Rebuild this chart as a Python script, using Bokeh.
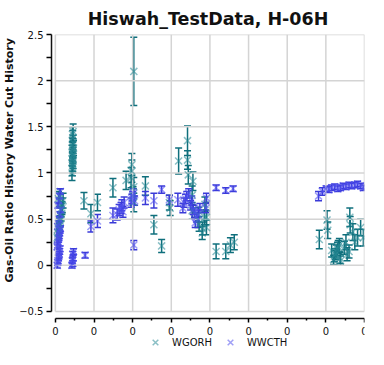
from bokeh.plotting import figure
from bokeh.models import (Range1d, LinearAxis, FixedTicker, ColumnDataSource, Whisker,
                          TeeHead, Legend, LegendItem, Title)
from bokeh.embed import file_html
from bokeh.resources import INLINE

# ---------------- data ----------------
x_ticks = [0, 1, 2, 3, 4, 5, 6, 7, 8]
x_tick_labels = ["0", "0", "0", "0", "0", "0", "0", "0", "0"]
x_minor = [0.5, 1.5, 2.5, 3.5, 4.5, 5.5, 6.5, 7.5]
y_ticks = [-0.5, 0, 0.5, 1, 1.5, 2, 2.5]
y_minor = [-0.25, 0.25, 0.75, 1.25, 1.75, 2.25]

# WGORH (teal)
gor_x = [0.05, 0.07, 0.08, 0.1, 0.1, 0.12, 0.13, 0.15, 0.15, 0.17, 0.18, 0.2, 0.08, 0.12,
         0.43, 0.44, 0.45, 0.45, 0.46, 0.44, 0.45, 0.46, 0.43, 0.45, 0.47, 0.44, 0.46, 0.45, 0.44, 0.46,
         0.74, 0.92, 1.09, 1.49, 1.83, 1.98, 1.98, 1.96, 2.03, 2.01, 2.03, 2.03,
         2.33, 2.55, 2.75, 2.95, 2.97, 3.19, 3.42, 3.42, 3.44, 3.54, 3.56, 3.54,
         3.69, 3.7, 3.72, 3.81, 3.8, 3.86, 3.87, 3.91, 3.91,
         4.16, 4.41, 4.53, 4.63,
         6.83, 7.03, 7.05, 7.15, 7.2, 7.22, 7.25, 7.27, 7.3, 7.32, 7.35, 7.37, 7.38,
         7.48, 7.52, 7.55, 7.6, 7.62, 7.63, 7.7, 7.75, 7.82, 7.9, 7.97]
gor_y = [0.3, 0.35, 0.4, 0.42, 0.45, 0.48, 0.5, 0.55, 0.6, 0.62, 0.65, 0.7, 0.72, 0.75,
         1.0, 1.05, 1.08, 1.1, 1.13, 1.15, 1.18, 1.2, 1.22, 1.25, 1.27, 1.3, 1.33, 1.38, 1.42, 1.45,
         0.7, 0.56, 0.68, 0.84, 0.92, 1.02, 1.09, 0.95, 0.68, 0.75, 0.85, 2.1,
         0.86, 0.44, 0.21, 0.68, 0.62, 1.13, 1.35, 1.14, 0.98, 0.76, 0.91, 0.59,
         0.49, 0.55, 0.45, 0.4, 0.35, 0.52, 0.66, 0.52, 0.41,
         0.15, 0.15, 0.22, 0.25,
         0.28, 0.49, 0.38, 0.16, 0.06, 0.1, 0.12, 0.15, 0.18, 0.2, 0.22, 0.08, 0.05,
         0.19, 0.25, 0.12, 0.15, 0.52, 0.44, 0.36, 0.25, 0.3, 0.41, 0.3]
gor_err = [0.05, 0.05, 0.06, 0.06, 0.06, 0.06, 0.07, 0.07, 0.07, 0.07, 0.08, 0.08, 0.08, 0.08,
           0.08, 0.08, 0.08, 0.08, 0.08, 0.08, 0.08, 0.08, 0.08, 0.08, 0.08, 0.08, 0.08, 0.08, 0.08, 0.08,
           0.09, 0.1, 0.09, 0.1, 0.1, 0.12, 0.12, 0.11, 0.1, 0.1, 0.1, 0.37,
           0.1, 0.1, 0.07, 0.08, 0.08, 0.14, 0.16, 0.1, 0.1, 0.1, 0.1, 0.09,
           0.08, 0.08, 0.08, 0.07, 0.07, 0.08, 0.08, 0.08, 0.08,
           0.08, 0.08, 0.08, 0.08,
           0.1, 0.1, 0.09, 0.07, 0.05, 0.06, 0.06, 0.07, 0.07, 0.07, 0.07, 0.06, 0.05,
           0.07, 0.08, 0.07, 0.07, 0.1, 0.09, 0.09, 0.08, 0.09, 0.09, 0.09]

# WWCTH (blue)
wct_x = [0.05, 0.06, 0.07, 0.08, 0.09, 0.1, 0.11, 0.12, 0.05, 0.06, 0.07, 0.08, 0.09, 0.1,
         0.11, 0.12, 0.13, 0.06, 0.08, 0.1, 0.12, 0.14, 0.07, 0.09, 0.11, 0.13,
         0.43, 0.45, 0.44, 0.46, 0.45, 0.47,
         0.77, 0.92, 1.09, 1.49, 1.6, 1.65, 1.7, 1.72, 1.75, 1.78,
         1.96, 1.98, 2.0, 2.02, 2.05, 2.03,
         2.33, 2.55, 2.75, 2.95, 3.17,
         3.3, 3.33, 3.37, 3.4, 3.45, 3.5, 3.53, 3.57, 3.6,
         3.62, 3.65, 3.7, 3.74, 3.91, 3.9,
         4.16, 4.41, 4.6,
         6.81, 6.91, 7.01, 7.08, 7.15, 7.23, 7.31, 7.38, 7.45, 7.52, 7.6, 7.67, 7.75, 7.82, 7.9, 7.97]
wct_y = [0.0, 0.03, 0.05, 0.08, 0.1, 0.12, 0.15, 0.18, 0.2, 0.22, 0.25, 0.28, 0.3, 0.32,
         0.35, 0.38, 0.4, 0.42, 0.45, 0.5, 0.55, 0.6, 0.65, 0.7, 0.75, 0.8,
         0.0, 0.02, 0.05, 0.08, 0.12, 0.15,
         0.11, 0.42, 0.48, 0.54, 0.55, 0.6, 0.62, 0.65, 0.58, 0.68,
         0.68, 0.72, 0.75, 0.78, 0.7, 0.22,
         0.73, 0.7, 0.82, 0.71, 0.71,
         0.62, 0.68, 0.72, 0.75, 0.78, 0.65, 0.7, 0.6, 0.57,
         0.46, 0.52, 0.55, 0.62, 0.73, 0.62,
         0.84, 0.81, 0.83,
         0.75, 0.8, 0.83, 0.82, 0.84, 0.85, 0.83, 0.84, 0.86, 0.85, 0.87, 0.86, 0.87, 0.88, 0.86, 0.84]
wct_err = [0.03, 0.03, 0.03, 0.03, 0.03, 0.03, 0.03, 0.03, 0.03, 0.03, 0.03, 0.03, 0.03, 0.03,
           0.03, 0.03, 0.03, 0.03, 0.03, 0.03, 0.03, 0.03, 0.03, 0.03, 0.03, 0.03,
           0.03, 0.03, 0.03, 0.03, 0.03, 0.03,
           0.03, 0.06, 0.07, 0.08, 0.06, 0.06, 0.06, 0.06, 0.06, 0.06,
           0.05, 0.05, 0.05, 0.05, 0.05, 0.05,
           0.07, 0.08, 0.04, 0.05, 0.07,
           0.05, 0.05, 0.05, 0.05, 0.05, 0.05, 0.05, 0.05, 0.05,
           0.05, 0.05, 0.05, 0.05, 0.05, 0.05,
           0.03, 0.03, 0.03,
           0.05, 0.04, 0.03, 0.03, 0.03, 0.03, 0.03, 0.03, 0.03, 0.03, 0.03, 0.03, 0.03, 0.03, 0.03, 0.03]

GOR_BAR = "#0f6f7c"
GOR_MARK = "#2a8a96"
WCT_BAR = "#3a3ad8"
WCT_MARK = "#5050ee"
FONT = "DejaVu Sans"

def src(xs, ys, es):
    return ColumnDataSource(dict(x=xs, y=ys,
                                 lower=[a - b for a, b in zip(ys, es)],
                                 upper=[a + b for a, b in zip(ys, es)]))

gor_src = src(gor_x, gor_y, gor_err)
wct_src = src(wct_x, wct_y, wct_err)

p = figure(width=368, height=349, output_backend="svg", toolbar_location=None,
           x_range=Range1d(-0.1, 8), y_range=Range1d(-0.9116, 2.5),
           x_axis_location=None, y_axis_location=None,
           min_border_left=50, min_border_right=4, min_border_top=34, min_border_bottom=0)
p.outline_line_color = None
p.xgrid.visible = False
p.ygrid.visible = False
p.background_fill_color = "white"
p.border_fill_color = "white"

p.title.text = "Hiswah_TestData, H-06H"
p.title.text_font = FONT
p.title.text_font_size = "17.5px"
p.title.text_font_style = "bold"
p.title.align = "center"
p.title.vertical_align = "top"
p.title.text_color = "#111111"
p.title.standoff = 8

# grid lines from tick arrays
p.segment(x0=x_ticks, x1=x_ticks, y0=[y_ticks[0]] * len(x_ticks), y1=[y_ticks[-1]] * len(x_ticks),
          line_color="#d4d4d4", line_width=1.5)
p.segment(x0=[x_ticks[0]] * len(y_ticks), x1=[x_ticks[-1]] * len(y_ticks), y0=y_ticks, y1=y_ticks,
          line_color="#d4d4d4", line_width=1.5)

# y axis
yax = LinearAxis(ticker=FixedTicker(ticks=y_ticks, minor_ticks=y_minor), bounds=(-0.5, 2.5))
yax.major_label_text_font = FONT
yax.major_label_text_font_size = "10px"
yax.major_label_text_color = "#111111"
yax.major_label_standoff = 3
yax.major_tick_out = 5
yax.major_tick_in = 0
yax.minor_tick_out = 5
yax.minor_tick_in = 0
yax.axis_line_color = "#111111"
yax.axis_line_width = 1.5
yax.major_tick_line_width = 1.5
yax.minor_tick_line_width = 1.5
p.add_layout(yax, "left")

ytitle = Title(text="Gas-Oil Ratio History  Water Cut History", align="left", offset=67,
               text_font=FONT, text_font_size="11px", text_font_style="bold",
               text_color="#111111", standoff=1)
p.add_layout(ytitle, "left")

# x axis, drawn a little below the -0.5 grid line
xax = LinearAxis(ticker=FixedTicker(ticks=x_ticks, minor_ticks=x_minor), bounds=(0, 8),
                 fixed_location=-0.5758)
xax.major_label_overrides = {t: l for t, l in zip(x_ticks, x_tick_labels)}
xax.major_label_text_font = FONT
xax.major_label_text_font_size = "10px"
xax.major_label_text_color = "#111111"
xax.major_label_standoff = 5
xax.major_tick_out = 4
xax.major_tick_in = 0
xax.minor_tick_out = 2
xax.minor_tick_in = 0
xax.axis_line_color = "#111111"
xax.axis_line_width = 1.5
xax.major_tick_line_width = 1.5
xax.minor_tick_line_width = 1.5
p.add_layout(xax, "below")

# error bars + markers
def whisk(s, c):
    return Whisker(source=s, base="x", upper="upper", lower="lower", line_color=c, line_width=1.5,
                   upper_head=TeeHead(size=7, line_color=c, line_width=1.5),
                   lower_head=TeeHead(size=7, line_color=c, line_width=1.5))

p.add_layout(whisk(gor_src, GOR_BAR))
r_gor = p.scatter("x", "y", source=gor_src, marker="x", size=10, line_color=GOR_MARK,
                  line_alpha=0.55, line_width=1.5)
p.add_layout(whisk(wct_src, WCT_BAR))
r_wct = p.scatter("x", "y", source=wct_src, marker="x", size=10, line_color=WCT_MARK,
                  line_alpha=0.55, line_width=1.5)

legend = Legend(items=[LegendItem(label="WGORH", renderers=[r_gor]),
                       LegendItem(label="WWCTH", renderers=[r_wct])],
                orientation="horizontal", location=(94, -3),
                label_text_font=FONT, label_text_font_size="10px", label_text_color="#111111",
                glyph_height=20, glyph_width=20, label_height=20, label_standoff=7, spacing=8,
                padding=0, margin=0, border_line_color=None, background_fill_alpha=0)
p.add_layout(legend, "center")

open("out.html", "w").write(file_html(p, INLINE))
